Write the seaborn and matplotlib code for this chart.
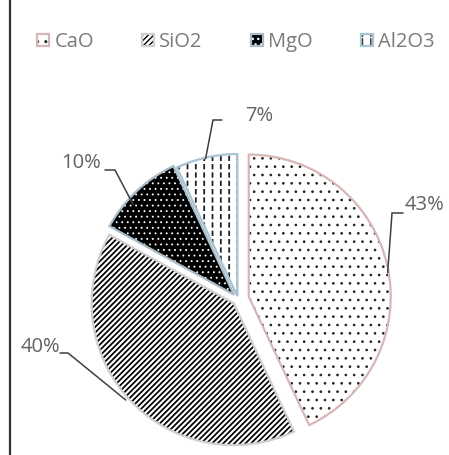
import matplotlib
matplotlib.use("Agg")
import matplotlib.pyplot as plt
import seaborn as sns
from matplotlib.lines import Line2D
import numpy as np

# Oxide composition (mass %)
components = ["CaO", "SiO2", "MgO", "Al2O3"]
shares = [43, 40, 10, 7]

# Fill patterns for each slice (face colour, hatch, hatch colour, outline colour)
faces = ["white", "white", "black", "white"]
hatches = ["..", "//////", "...", "||"]
hatch_colors = ["#222222", "black", "white", "#222222"]
outline_colors = ["#d8b6b6", "#cfcfcf", "#a9bcc8", "#a8c3d2"]

sns.set_theme(style="white")
plt.rcParams["font.family"] = ["Open Sans", "DejaVu Sans"]

W, H = 449, 455
fig = plt.figure(figsize=(W / 100, H / 100), dpi=100)
ax = fig.add_axes([0, 0, 1, 1])

center = (238, 299)
radius = 142
explode = [11, 6, 6, 3]   # offsets in pixel units (axes are laid out in pixels)
pie_kw = dict(explode=explode, center=center, radius=radius,
              startangle=-90, counterclock=True, frame=True)


def layer(hatch_lw, **kw):
    with plt.rc_context({"hatch.linewidth": hatch_lw}):
        wedges, _ = ax.pie(shares, **pie_kw, **kw)
    return wedges


# patterned fill
base = layer(1.0, colors=faces, wedgeprops=dict(linewidth=0))
hatch_lw = [0.7, 1.25, 0.6, 1.3]
for w, h, c, lw in zip(base, hatches, hatch_colors, hatch_lw):
    w.set_hatch(h)
    w.set_edgecolor(c)
    w.set_linewidth(0)
    if hasattr(w, "set_hatch_linewidth"):
        w.set_hatch_linewidth(lw)

# white horizontal bands break the vertical lines of Al2O3 into dashes
breaker = layer(2.2, colors=["none"] * 4, wedgeprops=dict(linewidth=0))
for i, w in enumerate(breaker):
    if components[i] != "Al2O3":
        w.set_visible(False)
        continue
    w.set_hatch("--")
    w.set_edgecolor("white")
    w.set_linewidth(0)
    if hasattr(w, "set_hatch_linewidth"):
        w.set_hatch_linewidth(2.2)

# slice outlines
outline = layer(1.0, wedgeprops=dict(fill=False, linewidth=1.6))
for w, c in zip(outline, outline_colors):
    w.set_edgecolor(c)

# percentage labels with elbow leaders:
# (text x, text y, ha, elbow start, elbow end, anchor angle, anchor radius)
label_layout = {
    "CaO": (405, 205, "left", (403, 213), (392, 213), 10, 152),
    "SiO2": (21, 347, "left", (60, 353), (68, 353), 222, 151),
    "MgO": (101, 163, "right", (105, 170), (115, 170), 138, 141),
    "Al2O3": (245, 116, "left", (222, 120), (213, 120), 103, 144),
}
for name, val in zip(components, shares):
    tx, ty, ha, p0, p1, ang, r = label_layout[name]
    ax.text(tx, ty, f"{val}%", ha=ha, va="center", fontsize=14.5, color="#626262")
    a = np.deg2rad(ang)
    anchor = (center[0] + r * np.cos(a), center[1] - r * np.sin(a))
    ax.add_line(Line2D([p0[0], p1[0], anchor[0]], [p0[1], p1[1], anchor[1]],
                       color="#404040", lw=1.1, solid_joinstyle="miter"))

ax.set_xlim(0, W)
ax.set_ylim(H, 0)
ax.set_aspect("equal")
ax.axis("off")

# legend
handles = [(b, o) for b, o in zip(base, outline)]
handles[3] = (base[3], breaker[3], outline[3])
leg = fig.legend(handles, components, loc="center", bbox_to_anchor=(236 / W, 1 - 42 / H),
                 ncol=4, frameon=False, fontsize=14.5, handlelength=0.6, handleheight=0.6,
                 handletextpad=0.25, columnspacing=2.4, labelcolor="#7a7a7a")

# vertical rule at the left edge
fig.add_artist(Line2D([10 / W, 10 / W], [0, 1], transform=fig.transFigure,
                      color="#333333", lw=1.6))

fig.savefig("out.png", dpi=100)
